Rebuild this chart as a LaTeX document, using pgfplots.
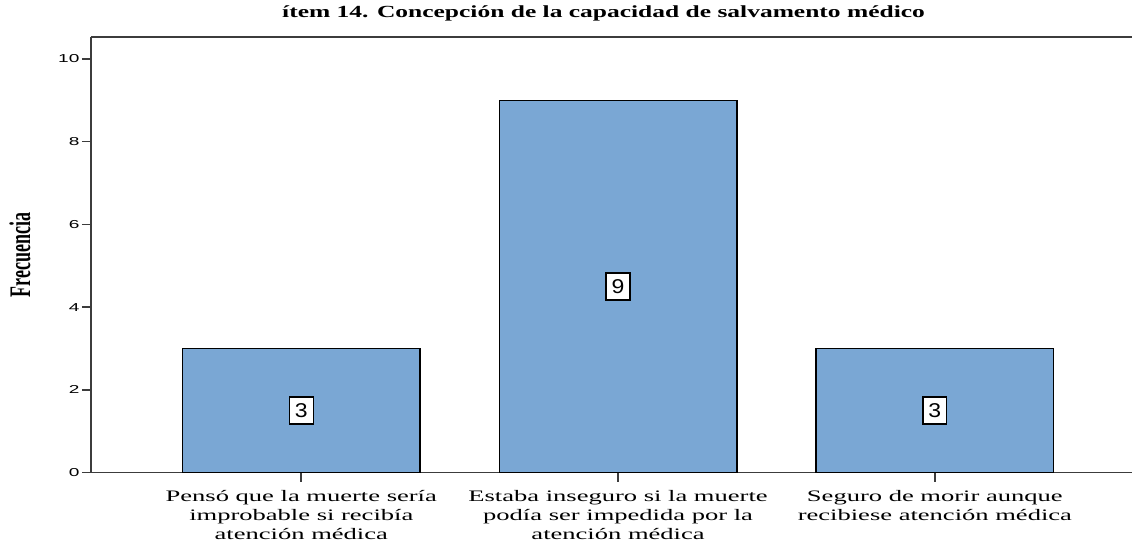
\documentclass[border=0pt]{standalone}
\usepackage{pgfplots}
\pgfplotsset{compat=1.18}
\usepackage{fontspec}
\setmainfont{Liberation Serif}[FakeStretch=1.66]
\newfontfamily\titlef{Liberation Serif}[FakeStretch=1.5]
\newfontfamily\sansf{Liberation Sans}[FakeStretch=1.66]
\newfontfamily\labf{Liberation Sans}[FakeStretch=1.15]
\newfontfamily\serifplain{Liberation Serif}
\definecolor{barblue}{RGB}{122,167,212}
\definecolor{axgray}{RGB}{60,60,60}
\begin{document}
\begin{tikzpicture}
\begin{axis}[
  scale only axis, width=1042pt, height=436pt,
  xmin=-0.664, xmax=2.623, ymin=0, ymax=10.53,
  axis x line*=bottom, axis y line*=left,
  axis line style={-, draw=axgray, line width=1.6pt},
  tick align=outside, major tick length=9pt,
  tick style={draw=axgray, line width=1.6pt},
  /pgf/number format/assume math mode=true,
  ytick={0,2,4,6,8,10},
  yticklabel style={font=\sansf\fontsize{11.5}{13}\selectfont, xshift=1pt},
  xtick={0,1,2},
  xticklabels={{Pensó que la muerte sería\\improbable si recibía\\atención médica},
               {Estaba inseguro si la muerte\\podía ser impedida por la\\atención médica},
               {Seguro de morir aunque\\recibiese atención médica}},
  xticklabel style={align=center, font=\fontsize{16}{19}\selectfont, yshift=-5pt},
  title={\titlef\bfseries ítem 14. Concepción de la capacidad de salvamento médico},
  title style={at={(rel axis cs:0.5,1)}, anchor=base, yshift=13pt, xshift=-8pt, font=\fontsize{17}{18}\selectfont},
  ylabel={\scalebox{1}[1.66]{\serifplain\bfseries\fontsize{18}{20}\selectfont Frecuencia}},
  ylabel style={at={(rel axis cs:0,0.5)}, anchor=center, yshift=71pt},
  clip=false,
]
\addplot[ybar, bar width=0.75, fill=barblue, draw=black, line width=1.3pt]
  coordinates {(0,3) (1,9) (2,3)};
\addplot[draw=none, mark=none, nodes near coords, point meta=explicit symbolic,
  every node near coord/.append style={anchor=center, fill=white, draw=black, line width=1.3pt,
     minimum width=24pt, minimum height=27pt, inner sep=0pt, font=\labf\fontsize{20}{20}\selectfont}]
  coordinates {(0,1.5) [3] (1,4.5) [9] (2,1.5) [3]};
\draw[axgray, line width=1.6pt] (rel axis cs:0,1) -- (rel axis cs:1,1);
\end{axis}
\path (current axis.south west) ++(-91pt,-71pt) coordinate (bbA);
\path (current axis.north east) ++(0pt,37pt) coordinate (bbB);
\path (bbA) rectangle (bbB);
\end{tikzpicture}
\end{document}
